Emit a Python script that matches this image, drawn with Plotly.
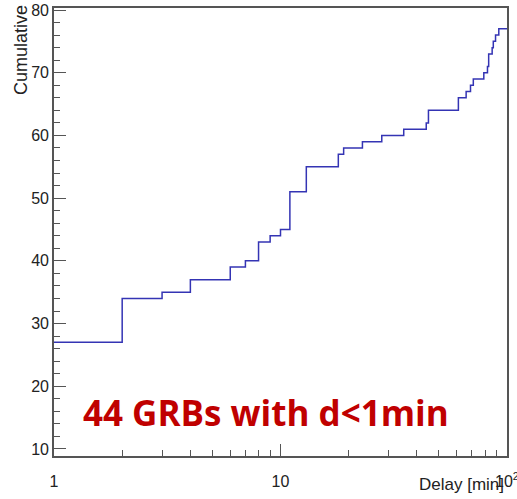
import plotly.graph_objects as go

# Delays (minutes) at which the cumulative count steps up, and the count after each step
delay_min = [1, 2, 3, 4, 6, 7, 8, 9, 10, 11, 13, 18, 19, 23, 28, 35, 44, 45,
             61, 66, 69, 71, 79, 82, 83, 86, 87, 89, 92, 100]
cumulative = [27, 34, 35, 37, 39, 40, 43, 44, 45, 51, 55, 57, 58, 59, 60, 61, 62, 64,
              66, 67, 68, 69, 70, 71, 73, 74, 75, 76, 77, 77]

x_major = [1, 10, 100]
x_major_text = ["1", "10", "10<sup>2</sup>"]
x_minor = [2, 3, 4, 5, 6, 7, 8, 9, 20, 30, 40, 50, 60, 70, 80, 90]

axis_col = "#555555"
font_fam = "Liberation Sans, Arial, sans-serif"

fig = go.Figure()
fig.add_trace(go.Scatter(
    x=delay_min, y=cumulative, mode="lines",
    line=dict(shape="hv", color="#3434b4", width=1.5),
    showlegend=False, hoverinfo="skip",
))

fig.update_layout(
    width=517, height=499,
    margin=dict(l=54, r=10, t=8, b=43, autoexpand=False),
    paper_bgcolor="white", plot_bgcolor="white",
    font=dict(family=font_fam, size=16, color="#222222"),
    xaxis=dict(
        type="log", range=[0, 2], automargin=False,
        tickvals=x_major, ticktext=x_major_text,
        ticks="inside", ticklen=12, tickwidth=1.2, tickcolor=axis_col,
        minor=dict(tickvals=x_minor, ticks="inside", ticklen=6,
                   tickwidth=1.2, tickcolor=axis_col),
        showline=True, linecolor=axis_col, linewidth=1.6, mirror=True,
        showgrid=False, zeroline=False, ticklabelstandoff=10,
        ticklabeloverflow="allow",
        tickfont=dict(size=16),
    ),
    yaxis=dict(
        range=[8.88, 80.32], automargin=False,
        tickvals=[10, 20, 30, 40, 50, 60, 70, 80],
        ticks="inside", ticklen=12, tickwidth=1.2, tickcolor=axis_col,
        minor=dict(dtick=2, ticks="inside", ticklen=6,
                   tickwidth=1.2, tickcolor=axis_col),
        showline=True, linecolor=axis_col, linewidth=1.6, mirror=True,
        showgrid=False, zeroline=False, ticklabelstandoff=0,
        ticklabeloverflow="allow",
        tickfont=dict(size=16),
    ),
)

# Axis titles placed at the far ends of the axes
fig.add_annotation(
    text="Cumulative", textangle=-90, xref="paper", yref="paper",
    x=-0.073, y=0.906, xanchor="center", yanchor="middle",
    showarrow=False, font=dict(size=18, color="#222222"),
)
fig.add_annotation(
    text="Delay [min]", xref="paper", yref="paper",
    x=0.998, y=-0.089, xanchor="right", yanchor="bottom",
    showarrow=False, font=dict(size=17, color="#222222"),
)

# Sample note
fig.add_annotation(
    text="<b>44 GRBs with d&lt;1min</b>", xref="paper", yref="paper",
    x=0.468, y=0.098, xanchor="center", yanchor="middle",
    showarrow=False, font=dict(family="Open Sans, sans-serif", size=35, color="#c00000"),
)

fig.write_html("out.html")
